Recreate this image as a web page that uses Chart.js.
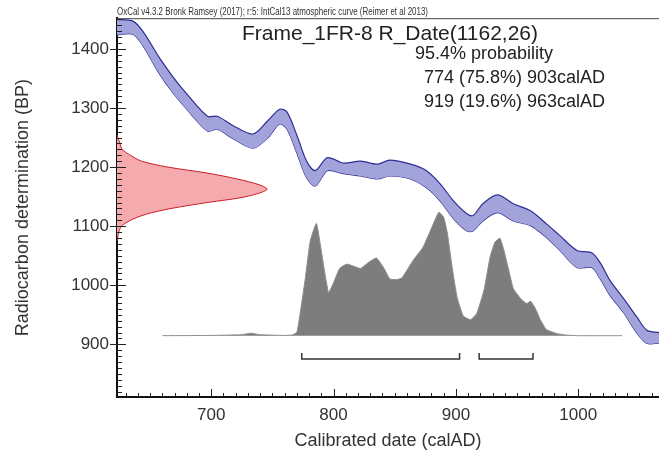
<!DOCTYPE html>
<html>
<head>
<meta charset="utf-8">
<script src="https://cdn.jsdelivr.net/npm/chart.js@4"></script>
<style>
  html, body { margin: 0; padding: 0; background: #fff; }
  #wrap { width: 659px; height: 457px; }
</style>
</head>
<body>
<div id="wrap"><canvas id="myChart" width="659" height="457"></canvas></div>
<script>
// calibration curve (IntCal13)
const curveYears = [623, 636, 644, 658, 669, 680, 697, 705, 718, 734, 746, 756, 762, 770, 778, 785, 795, 808, 822, 836,
  846, 863, 876, 887, 898, 909, 914, 922, 934, 947, 961, 974, 985, 999, 1011, 1018, 1026, 1037, 1048, 1056, 1066];
const bandUpper = [1450, 1447, 1430, 1384, 1352, 1324, 1286, 1286, 1270, 1256, 1278, 1298, 1293, 1254, 1210, 1194, 1216, 1207, 1210, 1205,
  1212, 1205, 1194, 1172, 1143, 1121, 1118, 1138, 1153, 1138, 1126, 1104, 1084, 1059, 1055, 1038, 1008, 978, 946, 924, 920];
const bandLower = [1424, 1425, 1406, 1357, 1325, 1298, 1261, 1264, 1248, 1232, 1249, 1273, 1264, 1224, 1182, 1168, 1194, 1189, 1185, 1180,
  1185, 1180, 1165, 1143, 1113, 1092, 1092, 1109, 1123, 1109, 1101, 1081, 1059, 1030, 1030, 1011, 983, 954, 919, 902, 902];

// measured date R_Date(1162,26), relative probability
const measBP = [1255, 1240, 1230, 1220, 1210, 1200, 1190, 1180, 1170, 1162, 1150, 1140, 1130, 1120, 1110, 1100, 1090, 1080, 1075];
const measProb = [0, 0.02, 0.035, 0.09, 0.165, 0.34, 0.6, 0.8, 0.95, 1.0, 0.86, 0.6, 0.36, 0.19, 0.09, 0.03, 0.012, 0.004, 0];

// calibrated distribution (calAD), relative probability
const calYears = [660, 700, 725, 732, 740, 760, 766, 770, 773, 777, 781, 786, 789, 793, 796, 800, 805, 811, 822, 828,
  835, 841, 846, 852, 856, 865, 873, 880, 886, 890, 893, 897, 901, 906, 912, 917, 923, 928, 932, 936,
  939, 943, 947, 953, 958, 961, 965, 969, 974, 983, 991, 1000, 1036];
const calProb = [0, 0.002, 0.008, 0.02, 0.008, 0.002, 0.005, 0.027, 0.2, 0.47, 0.77, 0.91, 0.75, 0.5, 0.35, 0.43, 0.545, 0.58, 0.545, 0.59,
  0.63, 0.55, 0.46, 0.455, 0.47, 0.61, 0.715, 0.87, 1.0, 0.96, 0.83, 0.55, 0.31, 0.16, 0.13, 0.18, 0.37, 0.64, 0.76, 0.79,
  0.7, 0.54, 0.38, 0.3, 0.26, 0.28, 0.22, 0.13, 0.05, 0.016, 0.004, 0, 0];

// 95.4% ranges
const rangeFrom = [774, 919];
const rangeTo = [903, 963];
const rangePct = ['75.8%', '19.6%'];

const xTicks = [700, 800, 900, 1000];
const yTicks = [900, 1000, 1100, 1200, 1300, 1400];
const xMin = 623, xMax = 1066, yMin = 811, yMax = 1452;

const fontFam = '"Liberation Sans", Arial, sans-serif';

function pts(xs, ys) {
  return xs.map((v, i) => ({x: v, y: ys[i]}));
}

let brackets = rangeFrom.map((f, i) => ({
  type: 'line',
  xAxisID: 'x', yAxisID: 'yp',
  data: [{x: f, y: -0.14}, {x: f, y: -0.19}, {x: rangeTo[i], y: -0.19}, {x: rangeTo[i], y: -0.14}],
  borderColor: '#333', borderWidth: 1.5, pointRadius: 0, fill: false,
}));

const extras = {
  id: 'extras',
  afterDraw(chart) {
    const {ctx, chartArea: a, scales: {x, y}} = chart;
    ctx.save();
    // tick marks, major and minor
    ctx.strokeStyle = '#222';
    ctx.lineWidth = 1;
    ctx.beginPath();
    for (let v = Math.ceil(x.min / 10) * 10; v <= x.max; v += 10) {
      const px = Math.round(x.getPixelForValue(v)) + 0.5;
      const len = v % 100 === 0 ? 8 : 4;
      ctx.moveTo(px, a.bottom);
      ctx.lineTo(px, a.bottom - len);
    }
    for (let v = Math.ceil(y.min / 10) * 10; v <= y.max; v += 10) {
      const py = Math.round(y.getPixelForValue(v)) + 0.5;
      if (v % 100 === 0) {
        ctx.moveTo(a.left - 7, py);
        ctx.lineTo(a.left + 9, py);
      } else {
        ctx.moveTo(a.left, py);
        ctx.lineTo(a.left + 5, py);
      }
    }
    ctx.stroke();

    // top frame line
    ctx.strokeStyle = '#444';
    ctx.beginPath();
    ctx.moveTo(a.left, a.top + 0.5);
    ctx.lineTo(a.right, a.top + 0.5);
    ctx.stroke();

    // header (condensed to fit like the original)
    const header = 'OxCal v4.3.2 Bronk Ramsey (2017); r:5: IntCal13 atmospheric curve (Reimer et al 2013)';
    ctx.fillStyle = '#333';
    ctx.textBaseline = 'alphabetic';
    ctx.textAlign = 'left';
    ctx.font = '10px ' + fontFam;
    const sx = 311 / ctx.measureText(header).width;
    ctx.save();
    ctx.translate(a.left, a.top - 3);
    ctx.scale(sx, 1);
    ctx.fillText(header, 0, 0);
    ctx.restore();

    ctx.fillStyle = '#222';
    ctx.textAlign = 'center';
    ctx.font = '21px ' + fontFam;
    ctx.fillText('Frame_1FR-8 R_Date(1162,26)', 390, 40);

    ctx.textAlign = 'left';
    ctx.font = '18px ' + fontFam;
    ctx.fillText('95.4% probability', 415, 59);
    rangeFrom.forEach((f, i) => {
      ctx.fillText(f + ' (' + rangePct[i] + ') ' + rangeTo[i] + 'calAD', 424, 83 + i * 24);
    });
    ctx.restore();
  }
};

new Chart(document.getElementById('myChart'), {
  type: 'line',
  data: {
    datasets: [
      {
        data: pts(curveYears, bandUpper),
        xAxisID: 'x', yAxisID: 'y',
        borderColor: '#2e2e94', borderWidth: 1.2, pointRadius: 0, tension: 0.3,
        backgroundColor: '#a3a3dc', fill: '+1',
      },
      {
        data: pts(curveYears, bandLower),
        xAxisID: 'x', yAxisID: 'y',
        borderColor: '#2e2e94', borderWidth: 1.2, pointRadius: 0, tension: 0.3, fill: false,
      },
      {
        data: pts(measProb, measBP),
        xAxisID: 'xr', yAxisID: 'y',
        borderColor: '#c8202c', borderWidth: 1, pointRadius: 0, tension: 0.3,
        backgroundColor: '#f5aaae', fill: 'shape',
      },
      {
        data: pts(calYears, calProb),
        xAxisID: 'x', yAxisID: 'yp',
        borderColor: '#8c8c8c', borderWidth: 1, pointRadius: 0, tension: 0.15,
        backgroundColor: '#7d7d7d', fill: 'origin',
      },
      ...brackets,
    ]
  },
  options: {
    responsive: false,
    animation: false,
    devicePixelRatio: 1,
    layout: {padding: {top: 17, right: 0, left: 0, bottom: 0}},
    plugins: {legend: {display: false}, tooltip: {enabled: false}},
    scales: {
      x: {
        type: 'linear', position: 'bottom', min: xMin, max: xMax,
        grid: {display: false, drawTicks: false},
        border: {display: true, color: '#111', width: 2},
        ticks: {color: '#333', font: {size: 17, family: fontFam}, padding: 8, callback: v => String(v)},
        afterBuildTicks: s => { s.ticks = xTicks.map(v => ({value: v})); },
        afterFit: s => { s.height = 60; },
        title: {display: true, text: 'Calibrated date (calAD)', color: '#333',
          font: {size: 18, family: fontFam}, padding: {top: 0, bottom: 5}},
      },
      y: {
        type: 'linear', position: 'left', min: yMin, max: yMax,
        grid: {display: false, drawTicks: false},
        border: {display: true, color: '#111', width: 2},
        ticks: {color: '#333', font: {size: 17, family: fontFam}, padding: 8, callback: v => String(v)},
        afterBuildTicks: s => { s.ticks = yTicks.map(v => ({value: v})); },
        afterFit: s => { s.width = 117; },
        title: {display: true, text: 'Radiocarbon determination (BP)', color: '#333',
          font: {size: 18, family: fontFam}, padding: {top: 12, bottom: 0}},
      },
      xr: {type: 'linear', axis: 'x', display: false, min: 0, max: 3.613},
      yp: {type: 'linear', axis: 'y', display: false, min: -0.497, max: 2.573},
    }
  },
  plugins: [extras]
});
</script>
</body>
</html>
